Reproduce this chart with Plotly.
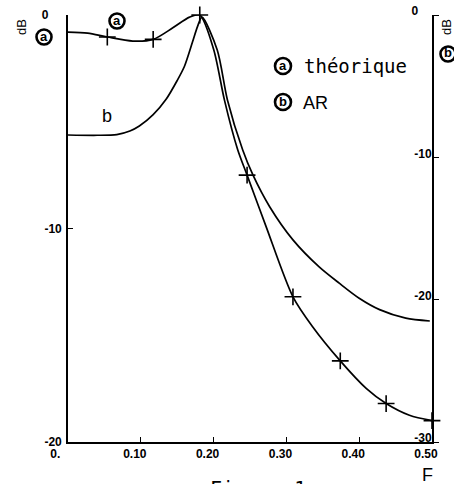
import plotly.graph_objects as go

# ---- data ----
# curve a (théorique), left axis dB
a_F = [0.0, 0.027, 0.054, 0.089, 0.117, 0.144, 0.167, 0.181, 0.200, 0.215, 0.233,
       0.246, 0.272, 0.309, 0.336, 0.374, 0.410, 0.437, 0.469, 0.500]
a_dB = [-0.8, -0.85, -1.03, -1.22, -1.14, -0.6, -0.1, 0.0, -1.6, -4.0, -6.3,
        -7.5, -9.9, -13.2, -14.6, -16.2, -17.5, -18.2, -18.75, -19.0]
# cross marks on curve a
cross_F = [0.054, 0.117, 0.181, 0.246, 0.309, 0.374, 0.437, 0.500]
cross_dB = [-1.03, -1.14, 0.0, -7.5, -13.2, -16.2, -18.2, -19.0]
# curve b (AR), right axis dB
b_F = [0.0, 0.04, 0.067, 0.085, 0.098, 0.117, 0.135, 0.150, 0.160, 0.171, 0.178, 0.184,
       0.205, 0.219, 0.240, 0.254, 0.277, 0.309, 0.345, 0.373, 0.400, 0.428, 0.464, 0.497]
b_dB = [-8.43, -8.45, -8.4, -8.15, -7.8, -7.0, -5.9, -4.6, -3.6, -1.9, -0.8, -0.15,
        -2.46, -5.97, -9.49, -11.24, -13.47, -15.8, -17.7, -18.86, -19.9, -20.7, -21.3, -21.5]

x_ticks = [0.0, 0.1, 0.2, 0.3, 0.4, 0.5]
x_labels = ["0.\u2007\u2007", "0.10", "0.20", "0.30", "0.40", "0.50"]
yl_ticks = [-20, -10, 0]
yl_labels = ["-20", "-10", "0\u2007\u2007"]
yr_ticks = [-30, -20, -10, 0]
yr_labels = ["-30", "-20", "-10", "0\u2007\u2007"]

tickfont = dict(family="Liberation Sans", size=12, color="black", weight="bold")

fig = go.Figure()
fig.add_trace(go.Scatter(x=a_F, y=a_dB, mode="lines", line=dict(color="black", width=1.7, shape="spline", smoothing=0.8),
                         yaxis="y", showlegend=False, hoverinfo="skip"))
fig.add_trace(go.Scatter(x=cross_F, y=cross_dB, mode="markers", yaxis="y", showlegend=False,
                         marker=dict(symbol="cross-thin", size=12, line=dict(color="black", width=1.6)),
                         cliponaxis=False, hoverinfo="skip"))
fig.add_trace(go.Scatter(x=b_F, y=b_dB, mode="lines", line=dict(color="black", width=1.7, shape="spline", smoothing=0.8),
                         yaxis="y2", showlegend=False, hoverinfo="skip"))

fig.update_layout(
    width=454, height=484,
    margin=dict(l=68, r=22, t=15, b=42, autoexpand=False),
    paper_bgcolor="white", plot_bgcolor="white",
    xaxis=dict(range=[0, 0.50001], tickvals=x_ticks, ticktext=x_labels, showgrid=False, zeroline=False,
               showline=True, linecolor="black", linewidth=1.8, ticks="inside", ticklen=5, tickcolor="black",
               tickwidth=1.2, tickfont=tickfont, ticklabelshift=-6, ticklabeloverflow="allow", automargin=False),
    yaxis=dict(range=[-20, 0], tickvals=yl_ticks, ticktext=yl_labels, showgrid=False, zeroline=False,
               showline=True, linecolor="black", linewidth=1.6, ticks="inside", ticklen=5, tickcolor="black",
               tickwidth=1.2, tickfont=tickfont, ticklabelstandoff=2, ticklabeloverflow="allow", automargin=False),
    yaxis2=dict(range=[-30, 0], tickvals=yr_ticks, ticktext=yr_labels, overlaying="y", side="right",
                showgrid=False, zeroline=False, showline=True, linecolor="black", linewidth=1.6,
                ticks="outside", ticklen=5, tickcolor="black", tickwidth=1.2, tickfont=tickfont,
                ticklabelposition="inside", ticklabeloverflow="allow", ticklabelshift=-4, automargin=False),
)

def px_x(px):
    return (px - 68) / 364

def px_y(py):
    return (442 - py) / 427

def ann(text, px, py, font, xanchor="center", yanchor="middle", textangle=0):
    fig.add_annotation(text=text, x=px_x(px), y=px_y(py), xref="paper", yref="paper",
                       showarrow=False, font=font, xanchor=xanchor, yanchor=yanchor, textangle=textangle)

letter_font = dict(family="Liberation Sans", size=13, color="black", weight="bold")
def circled(letter, cx, cy, d=15):
    r = d / 2
    fig.add_shape(type="circle", xref="paper", yref="paper",
                  x0=px_x(cx - r), x1=px_x(cx + r), y0=px_y(cy + r), y1=px_y(cy - r),
                  line=dict(color="black", width=2.6), fillcolor="white", layer="above")
    ann(letter, cx, cy - 1, letter_font)

lab_font = dict(family="Liberation Sans", size=13, color="black")
ann("dB", 21, 27, lab_font, textangle=-90)
circled("a", 44, 37)
circled("a", 117, 21)
circled("a", 283, 66, 16)
ann("th\u00e9orique", 302, 66, dict(family="DejaVu Sans Mono", size=19, color="black"), xanchor="left")
circled("b", 283, 102, 16)
ann("AR", 301, 103, dict(family="Liberation Sans", size=18, color="black"), xanchor="left")
ann("b", 107, 116, dict(family="Liberation Sans", size=18, color="black"))
ann("dB", 446, 27, lab_font, textangle=-90)
circled("b", 448, 54)
ann("F", 427, 475, dict(family="Liberation Sans", size=18, color="black"))
ann("Figure 1", 258, 474, dict(family="DejaVu Sans Mono", size=20, color="black"), yanchor="top")

fig.write_html("out.html")
